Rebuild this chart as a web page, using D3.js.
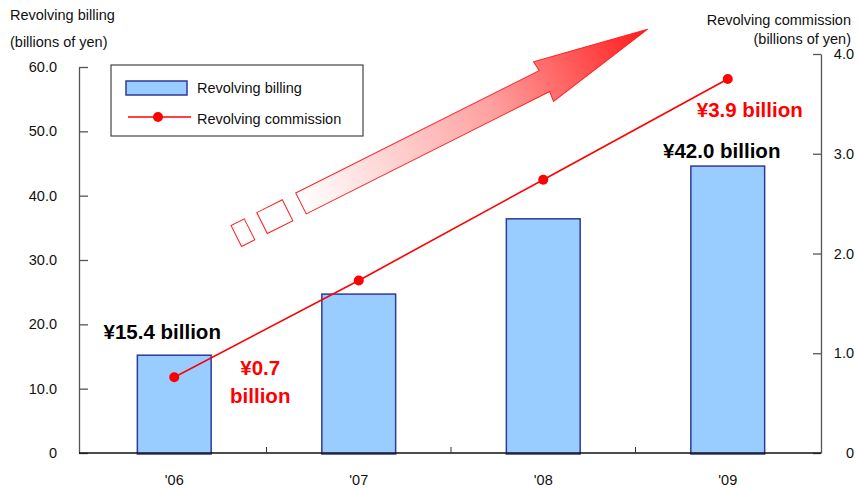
<!DOCTYPE html>
<html>
<head>
<meta charset="utf-8">
<script src="https://cdn.jsdelivr.net/npm/d3@7"></script>
<style>
  body { margin: 0; background: #fff; }
  svg { display: block; font-family: "Liberation Sans", Arial, sans-serif; }
</style>
</head>
<body>
<svg id="chart" width="859" height="493"></svg>
<script>
// data
const years = ["'06", "'07", "'08", "'09"];
const billing = [15.2, 24.7, 36.4, 44.6];      // bar heights as drawn (billions of yen)
const commission = [0.76, 1.73, 2.74, 3.75];   // line points as drawn (billions of yen)
const leftTicks = [0, 10, 20, 30, 40, 50, 60];
const rightTicks = [0, 1, 2, 3, 4];
const billingNotes = ["¥15.4 billion", null, null, "¥42.0 billion"];
const commissionNotes = [["¥0.7", "billion"], null, null, ["¥3.9 billion"]];

const svg = d3.select('#chart');

const x = d3.scaleBand().domain(years).range([82, 820]).paddingInner(0).paddingOuter(0);
const yL = d3.scaleLinear().domain([0, 60]).range([453, 67]);
const yR = d3.scaleLinear().domain([0, 4]).range([453, 54]);
const barW = x.bandwidth() * 0.4;
const cx = (d) => x(d) + x.bandwidth() / 2;

// decorative arrow (gradient shaft + two broken blocks)
const defs = svg.append('defs');
const grad = defs.append('linearGradient').attr('id', 'arrowGrad')
  .attr('x1', 0).attr('y1', 0).attr('x2', 1).attr('y2', 0);
grad.append('stop').attr('offset', '0%').attr('stop-color', '#ffffff');
grad.append('stop').attr('offset', '55%').attr('stop-color', '#ffa0a0');
grad.append('stop').attr('offset', '100%').attr('stop-color', '#ff1a1a');

const arrow = svg.append('g').attr('transform', 'translate(301,203.5) rotate(-26.7)');
const sw = 11.7, hw = 22.2, hb = 272.5, tip = 388;
arrow.append('path')
  .attr('d', `M0,${-sw} L${hb},${-sw} L${hb - 1},${-hw} L${tip},0 L${hb - 1},${hw} L${hb},${sw} L0,${sw} Z`)
  .attr('fill', 'url(#arrowGrad)')
  .attr('stroke', '#ff2020')
  .attr('stroke-width', 1);
[[-43.6, 28.6], [-72.4, 14.8]].forEach(([a, w]) => {
  arrow.append('rect')
    .attr('x', a).attr('y', -sw).attr('width', w).attr('height', 2 * sw)
    .attr('fill', '#fff').attr('stroke', '#ff2020').attr('stroke-width', 1);
});

// bars
svg.append('g')
  .selectAll('rect')
  .data(years)
  .enter()
  .append('rect')
  .attr('x', (d) => cx(d) - barW / 2)
  .attr('width', barW)
  .attr('y', (d, i) => yL(billing[i]))
  .attr('height', (d, i) => yL(0) - yL(billing[i]) + 1)
  .attr('fill', '#99ccff')
  .attr('stroke', '#2e3a9a')
  .attr('stroke-width', 1.5);

// left axis
const axL = svg.append('g').attr('transform', 'translate(79,0)')
  .call(d3.axisLeft(yL).tickValues(leftTicks).tickSizeInner(-9).tickSizeOuter(0).tickPadding(22)
    .tickFormat((d) => d === 0 ? '0' : d3.format('.1f')(d)));
axL.selectAll('path, line').attr('stroke', '#555').attr('stroke-width', 1.3);
axL.selectAll('text').attr('font-size', 14.5).attr('fill', '#111').attr('font-family', null);

// right axis
const axR = svg.append('g').attr('transform', 'translate(821,0)')
  .call(d3.axisRight(yR).tickValues(rightTicks).tickSizeInner(-8).tickSizeOuter(0).tickPadding(33)
    .tickFormat((d) => d === 0 ? '0' : d3.format('.1f')(d)));
axR.selectAll('path, line').attr('stroke', '#555').attr('stroke-width', 1.3);
axR.selectAll('text').attr('font-size', 14.5).attr('fill', '#111').attr('font-family', null)
  .attr('text-anchor', 'end');

// bottom axis
svg.append('line')
  .attr('x1', 79).attr('x2', 821).attr('y1', yL(0)).attr('y2', yL(0))
  .attr('stroke', '#111').attr('stroke-width', 1.3);
svg.append('g').selectAll('line')
  .data(years.slice(1))
  .enter()
  .append('line')
  .attr('x1', (d) => x(d)).attr('x2', (d) => x(d))
  .attr('y1', yL(0) - 6).attr('y2', yL(0))
  .attr('stroke', '#333').attr('stroke-width', 1);
svg.append('g').selectAll('text')
  .data(years)
  .enter()
  .append('text')
  .attr('x', (d) => cx(d))
  .attr('y', 485)
  .attr('text-anchor', 'middle')
  .attr('font-size', 14.5)
  .attr('fill', '#111')
  .text((d) => d);

// commission line
const line = d3.line().x((d, i) => cx(years[i])).y((d) => yR(d));
svg.append('path')
  .datum(commission)
  .attr('d', line)
  .attr('fill', 'none')
  .attr('stroke', '#ff0000')
  .attr('stroke-width', 1.6);
svg.append('g').selectAll('circle')
  .data(commission)
  .enter()
  .append('circle')
  .attr('cx', (d, i) => cx(years[i]))
  .attr('cy', (d) => yR(d))
  .attr('r', 5)
  .attr('fill', '#ff0000');

// axis titles
svg.append('text').attr('x', 10).attr('y', 20).attr('font-size', 14.5).attr('fill', '#111').text('Revolving billing');
svg.append('text').attr('x', 10).attr('y', 47).attr('font-size', 14.5).attr('fill', '#111').text('(billions of yen)');
svg.append('text').attr('x', 851).attr('y', 25).attr('text-anchor', 'end').attr('font-size', 14.5).attr('fill', '#111').text('Revolving commission');
svg.append('text').attr('x', 851).attr('y', 44).attr('text-anchor', 'end').attr('font-size', 14.5).attr('fill', '#111').text('(billions of yen)');

// value notes
const billingNoteOffset = [[-12, -16], null, null, [-6, -8]];
billingNotes.forEach((t, i) => {
  if (!t) return;
  svg.append('text')
    .attr('x', cx(years[i]) + billingNoteOffset[i][0])
    .attr('y', yL(billing[i]) + billingNoteOffset[i][1])
    .attr('text-anchor', 'middle')
    .attr('font-size', 20.5).attr('font-weight', 'bold').attr('fill', '#000')
    .text(t);
});
const commNoteOffset = [[86, -2], null, null, [22, 38]];
commissionNotes.forEach((lines, i) => {
  if (!lines) return;
  lines.forEach((t, j) => {
    svg.append('text')
      .attr('x', cx(years[i]) + commNoteOffset[i][0])
      .attr('y', yR(commission[i]) + commNoteOffset[i][1] + j * 28)
      .attr('text-anchor', 'middle')
      .attr('font-size', 20.5).attr('font-weight', 'bold').attr('fill', '#ff0000')
      .text(t);
  });
});

// legend
const lg = svg.append('g');
lg.append('rect').attr('x', 111).attr('y', 65).attr('width', 252).attr('height', 71)
  .attr('fill', '#fff').attr('stroke', '#444').attr('stroke-width', 1.2);
lg.append('rect').attr('x', 126).attr('y', 81).attr('width', 61).attr('height', 14)
  .attr('fill', '#99ccff').attr('stroke', '#2e3a9a').attr('stroke-width', 1.5);
lg.append('text').attr('x', 197).attr('y', 93).attr('font-size', 14.5).attr('fill', '#111').text('Revolving billing');
lg.append('line').attr('x1', 128).attr('x2', 191).attr('y1', 117).attr('y2', 117)
  .attr('stroke', '#ff0000').attr('stroke-width', 1.6);
lg.append('circle').attr('cx', 158).attr('cy', 117).attr('r', 5).attr('fill', '#ff0000');
lg.append('text').attr('x', 197).attr('y', 124).attr('font-size', 14.5).attr('fill', '#111').text('Revolving commission');
</script>
</body>
</html>
